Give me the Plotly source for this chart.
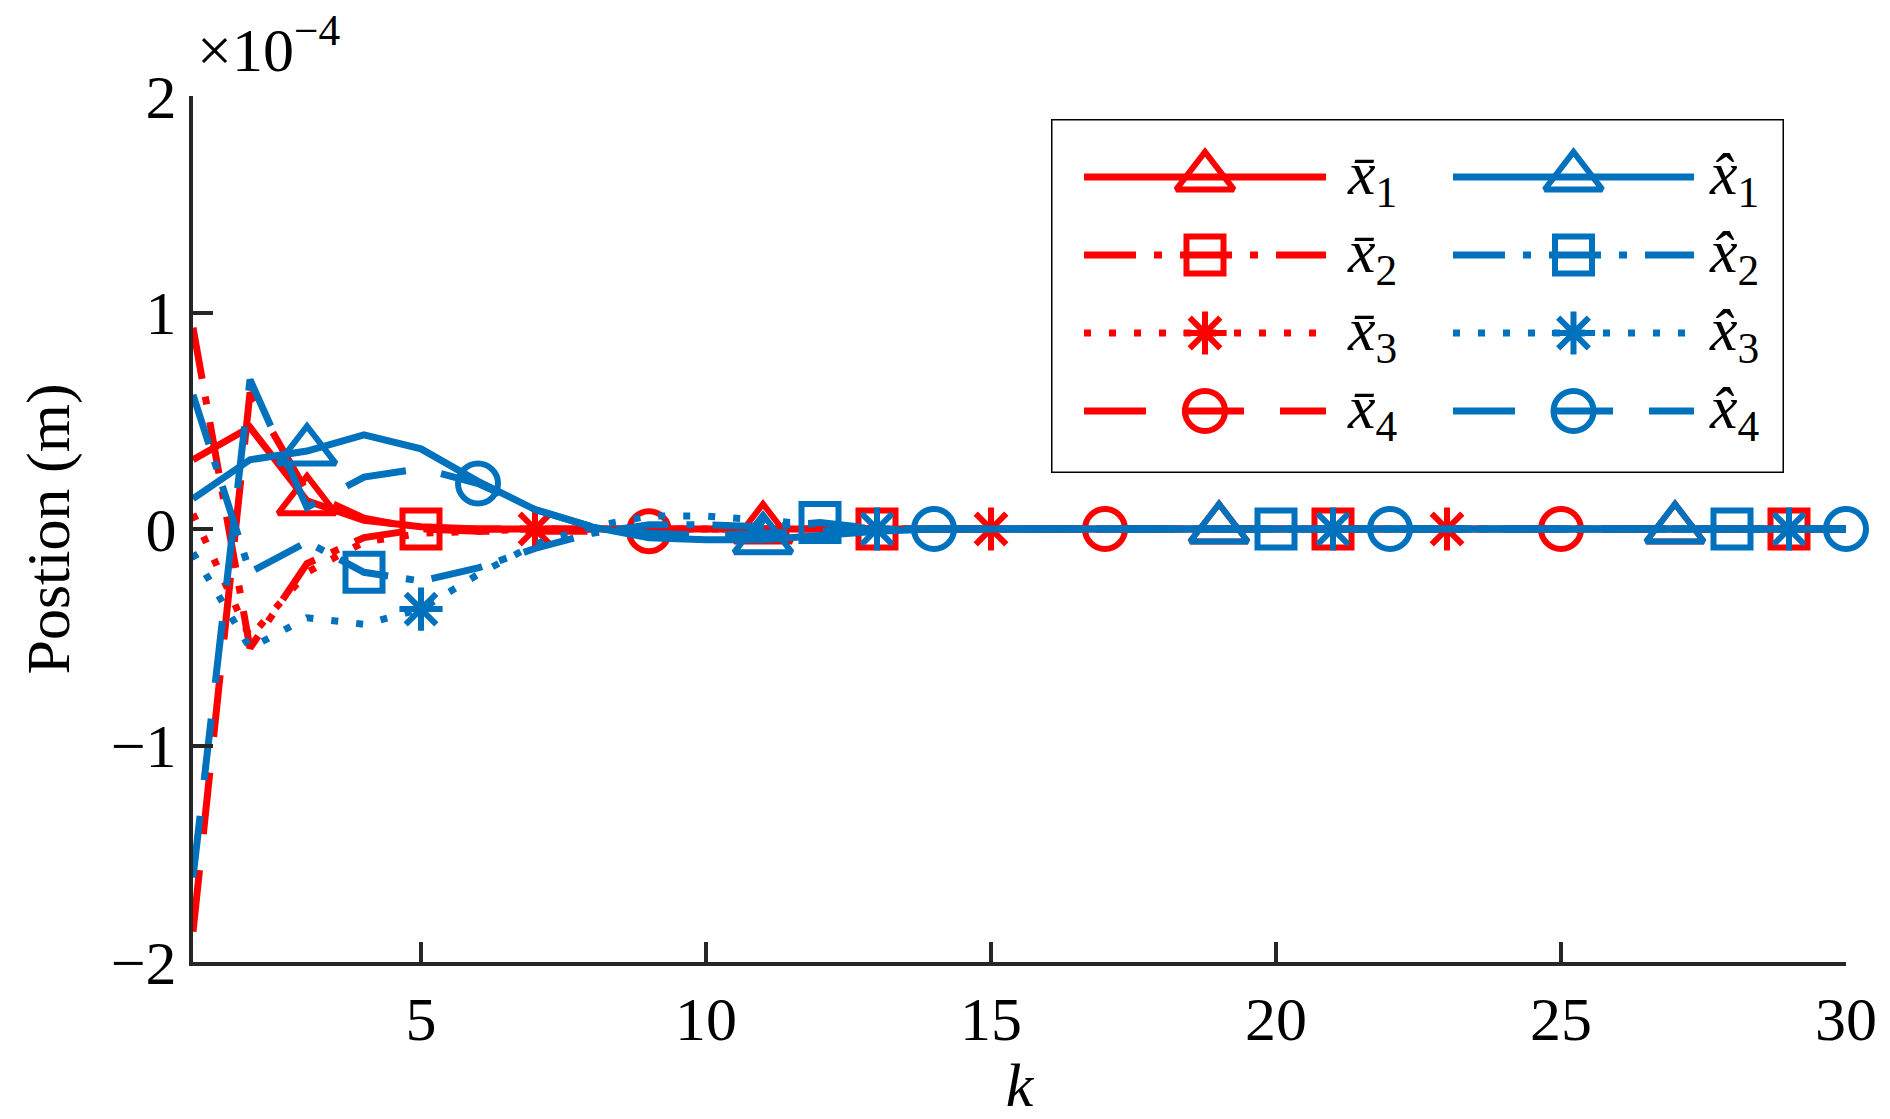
import plotly.graph_objects as go

# ---------------- data ----------------
k = list(range(1, 31))

xbar1 = [0.32, 0.47, 0.13, 0.04, 0.01, 0.00, 0.00, 0.00, 0.00, 0.00,
         0.00, 0.00, 0.00, 0.00, 0.00, 0.00, 0.00, 0.00, 0.00, 0.00,
         0.00, 0.00, 0.00, 0.00, 0.00, 0.00, 0.00, 0.00, 0.00, 0.00]
xbar2 = [0.93, -0.55, -0.16, -0.04, 0.00, 0.00, 0.00, 0.00, 0.00, 0.00,
         0.00, 0.00, 0.00, 0.00, 0.00, 0.00, 0.00, 0.00, 0.00, 0.00,
         0.00, 0.00, 0.00, 0.00, 0.00, 0.00, 0.00, 0.00, 0.00, 0.00]
xbar3 = [0.07, -0.50, -0.20, -0.06, -0.02, -0.01, 0.00, 0.00, 0.00, 0.00,
         0.00, 0.00, 0.00, 0.00, 0.00, 0.00, 0.00, 0.00, 0.00, 0.00,
         0.00, 0.00, 0.00, 0.00, 0.00, 0.00, 0.00, 0.00, 0.00, 0.00]
xbar4 = [-1.86, 0.63, 0.17, 0.05, 0.00, -0.01, -0.01, -0.01, -0.01, 0.00,
         0.00, 0.00, 0.00, 0.00, 0.00, 0.00, 0.00, 0.00, 0.00, 0.00,
         0.00, 0.00, 0.00, 0.00, 0.00, 0.00, 0.00, 0.00, 0.00, 0.00]
xhat1 = [0.14, 0.32, 0.36, 0.435, 0.37, 0.22, 0.09, 0.01, -0.04, -0.05,
         -0.05, -0.03, -0.01, 0.00, 0.00, 0.00, 0.00, 0.00, 0.00, 0.00,
         0.00, 0.00, 0.00, 0.00, 0.00, 0.00, 0.00, 0.00, 0.00, 0.00]
xhat2 = [0.62, -0.20, -0.06, -0.20, -0.24, -0.18, -0.09, -0.02, 0.02, 0.02,
         0.01, 0.03, 0.00, 0.00, 0.00, 0.00, 0.00, 0.00, 0.00, 0.00,
         0.00, 0.00, 0.00, 0.00, 0.00, 0.00, 0.00, 0.00, 0.00, 0.00]
xhat3 = [-0.11, -0.55, -0.41, -0.44, -0.37, -0.21, -0.07, 0.01, 0.06, 0.06,
         0.04, 0.02, 0.00, 0.00, 0.00, 0.00, 0.00, 0.00, 0.00, 0.00,
         0.00, 0.00, 0.00, 0.00, 0.00, 0.00, 0.00, 0.00, 0.00, 0.00]
xhat4 = [-1.61, 0.69, 0.10, 0.24, 0.28, 0.21, 0.09, 0.01, -0.02, -0.03,
         -0.02, -0.01, 0.00, 0.00, 0.00, 0.00, 0.00, 0.00, 0.00, 0.00,
         0.00, 0.00, 0.00, 0.00, 0.00, 0.00, 0.00, 0.00, 0.00, 0.00]

# k values at which markers are shown
mk_xbar1 = [3, 11, 19, 27]
mk_xbar2 = [5, 13, 21, 29]
mk_xbar3 = [7, 15, 23]
mk_xbar4 = [9, 17, 25]
mk_xhat1 = [3, 11, 19, 27]
mk_xhat2 = [4, 12, 20, 28]
mk_xhat3 = [5, 13, 21, 29]
mk_xhat4 = [6, 14, 22, 30]

x_ticks = [5, 10, 15, 20, 25, 30]
y_ticks = [-2, -1, 0, 1, 2]

labels_bar = ["<i>x\u0304</i><sub>1</sub>", "<i>x\u0304</i><sub>2</sub>",
              "<i>x\u0304</i><sub>3</sub>", "<i>x\u0304</i><sub>4</sub>"]
labels_hat = ["<i>x\u0302</i><sub>1</sub>", "<i>x\u0302</i><sub>2</sub>",
              "<i>x\u0302</i><sub>3</sub>", "<i>x\u0302</i><sub>4</sub>"]

# ---------------- styles ----------------
RED = "#FF0000"
BLUE = "#0072BD"
AX = "#262626"
FONT = "'Liberation Serif', 'Times New Roman', Times, serif"
FS = 62
LW = 7
MLW = 6
DASHES = ["solid", "52px,18px,8px,18px", "7px,18px", "62px,36px"]
SYMBOLS = ["triangle-up-open", "square-open", "asterisk-open", "circle-open"]
SIZES = [50, 37, 36, 40]

series = [
    (xbar1, mk_xbar1, RED, 0), (xbar2, mk_xbar2, RED, 1),
    (xbar3, mk_xbar3, RED, 2), (xbar4, mk_xbar4, RED, 3),
    (xhat1, mk_xhat1, BLUE, 0), (xhat2, mk_xhat2, BLUE, 1),
    (xhat3, mk_xhat3, BLUE, 2), (xhat4, mk_xhat4, BLUE, 3),
]

fig = go.Figure()
for vals, mks, col, s in series:
    fig.add_trace(go.Scatter(
        x=k, y=vals, mode="lines", showlegend=False, cliponaxis=False,
        line=dict(color=col, width=LW, dash=DASHES[s]), hoverinfo="skip"))
    fig.add_trace(go.Scatter(
        x=mks, y=[vals[m - 1] for m in mks], mode="markers",
        showlegend=False, cliponaxis=False, hoverinfo="skip",
        marker=dict(symbol=SYMBOLS[s], size=SIZES[s], color=col,
                    line=dict(width=MLW, color=col))))

# ---------------- custom legend (in its own box axes, pixel units) ----------------
W, H = 1890, 1119
ML, MR, MT, MB = 193, 44, 96, 157
PW, PH = W - ML - MR, H - MT - MB
BOX_L, BOX_T, BOX_R, BOX_B = 1051, 119, 1784, 473
bw, bh = BOX_R - BOX_L, BOX_B - BOX_T
row_y = [58, 136, 214, 292]
cols = [(33, 275, 294), (402, 643, 656)]

for ci, (colr, labels) in enumerate([(RED, labels_bar), (BLUE, labels_hat)]):
    x0, x1, tx = cols[ci]
    for s in range(4):
        yy = row_y[s]
        fig.add_trace(go.Scatter(
            x=[x0, x1], y=[yy, yy], mode="lines", xaxis="x2", yaxis="y2",
            showlegend=False, hoverinfo="skip",
            line=dict(color=colr, width=LW, dash=DASHES[s])))
        fig.add_trace(go.Scatter(
            x=[(x0 + x1) / 2], y=[yy], mode="markers", xaxis="x2", yaxis="y2",
            showlegend=False, hoverinfo="skip",
            marker=dict(symbol=SYMBOLS[s], size=SIZES[s], color=colr,
                        line=dict(width=MLW, color=colr))))
        fig.add_annotation(x=tx, y=yy, xref="x2", yref="y2", text=labels[s],
                           showarrow=False, xanchor="left", yanchor="middle",
                           font=dict(family=FONT, size=FS, color="black"))

fig.add_shape(type="rect", xref="x2", yref="y2", x0=0, x1=bw, y0=0, y1=bh,
              line=dict(color="black", width=3), fillcolor="white", layer="below")

fig.add_annotation(x=0, y=1, xref="paper", yref="paper", xanchor="left",
                   yanchor="bottom", xshift=2, yshift=10,
                   text="\u00d710<sup>\u22124</sup>", showarrow=False,
                   font=dict(family=FONT, size=FS, color="black"))

fig.update_layout(
    width=W, height=H,
    margin=dict(l=ML, r=MR, t=MT, b=MB, pad=0),
    paper_bgcolor="white", plot_bgcolor="white",
    font=dict(family=FONT, size=FS, color="black"),
    xaxis=dict(range=[1, 30], tickvals=x_ticks, showgrid=False, zeroline=False,
               showline=True, linecolor=AX, linewidth=4, ticks="inside",
               ticklen=20, tickwidth=4, tickcolor=AX,
               tickfont=dict(family=FONT, size=FS, color="black"),
               title=dict(text="<i>k</i>", standoff=6,
                          font=dict(family=FONT, size=FS, color="black"))),
    yaxis=dict(range=[-2, 2], tickvals=y_ticks, showgrid=False, zeroline=False,
               showline=True, linecolor=AX, linewidth=4, ticks="inside",
               ticklen=20, tickwidth=4, tickcolor=AX,
               tickfont=dict(family=FONT, size=FS, color="black"),
               title=dict(text="Postion (m)", standoff=22,
                          font=dict(family=FONT, size=FS, color="black"))),
    xaxis2=dict(domain=[(BOX_L - ML) / PW, (BOX_R - ML) / PW], range=[0, bw],
                visible=False, anchor="y2", fixedrange=True),
    yaxis2=dict(domain=[(H - MB - BOX_B) / PH, (H - MB - BOX_T) / PH],
                range=[bh, 0], visible=False, anchor="x2", fixedrange=True),
)

fig.write_html("out.html", config={"displayModeBar": False},
               post_script="document.body.style.margin='0';")
